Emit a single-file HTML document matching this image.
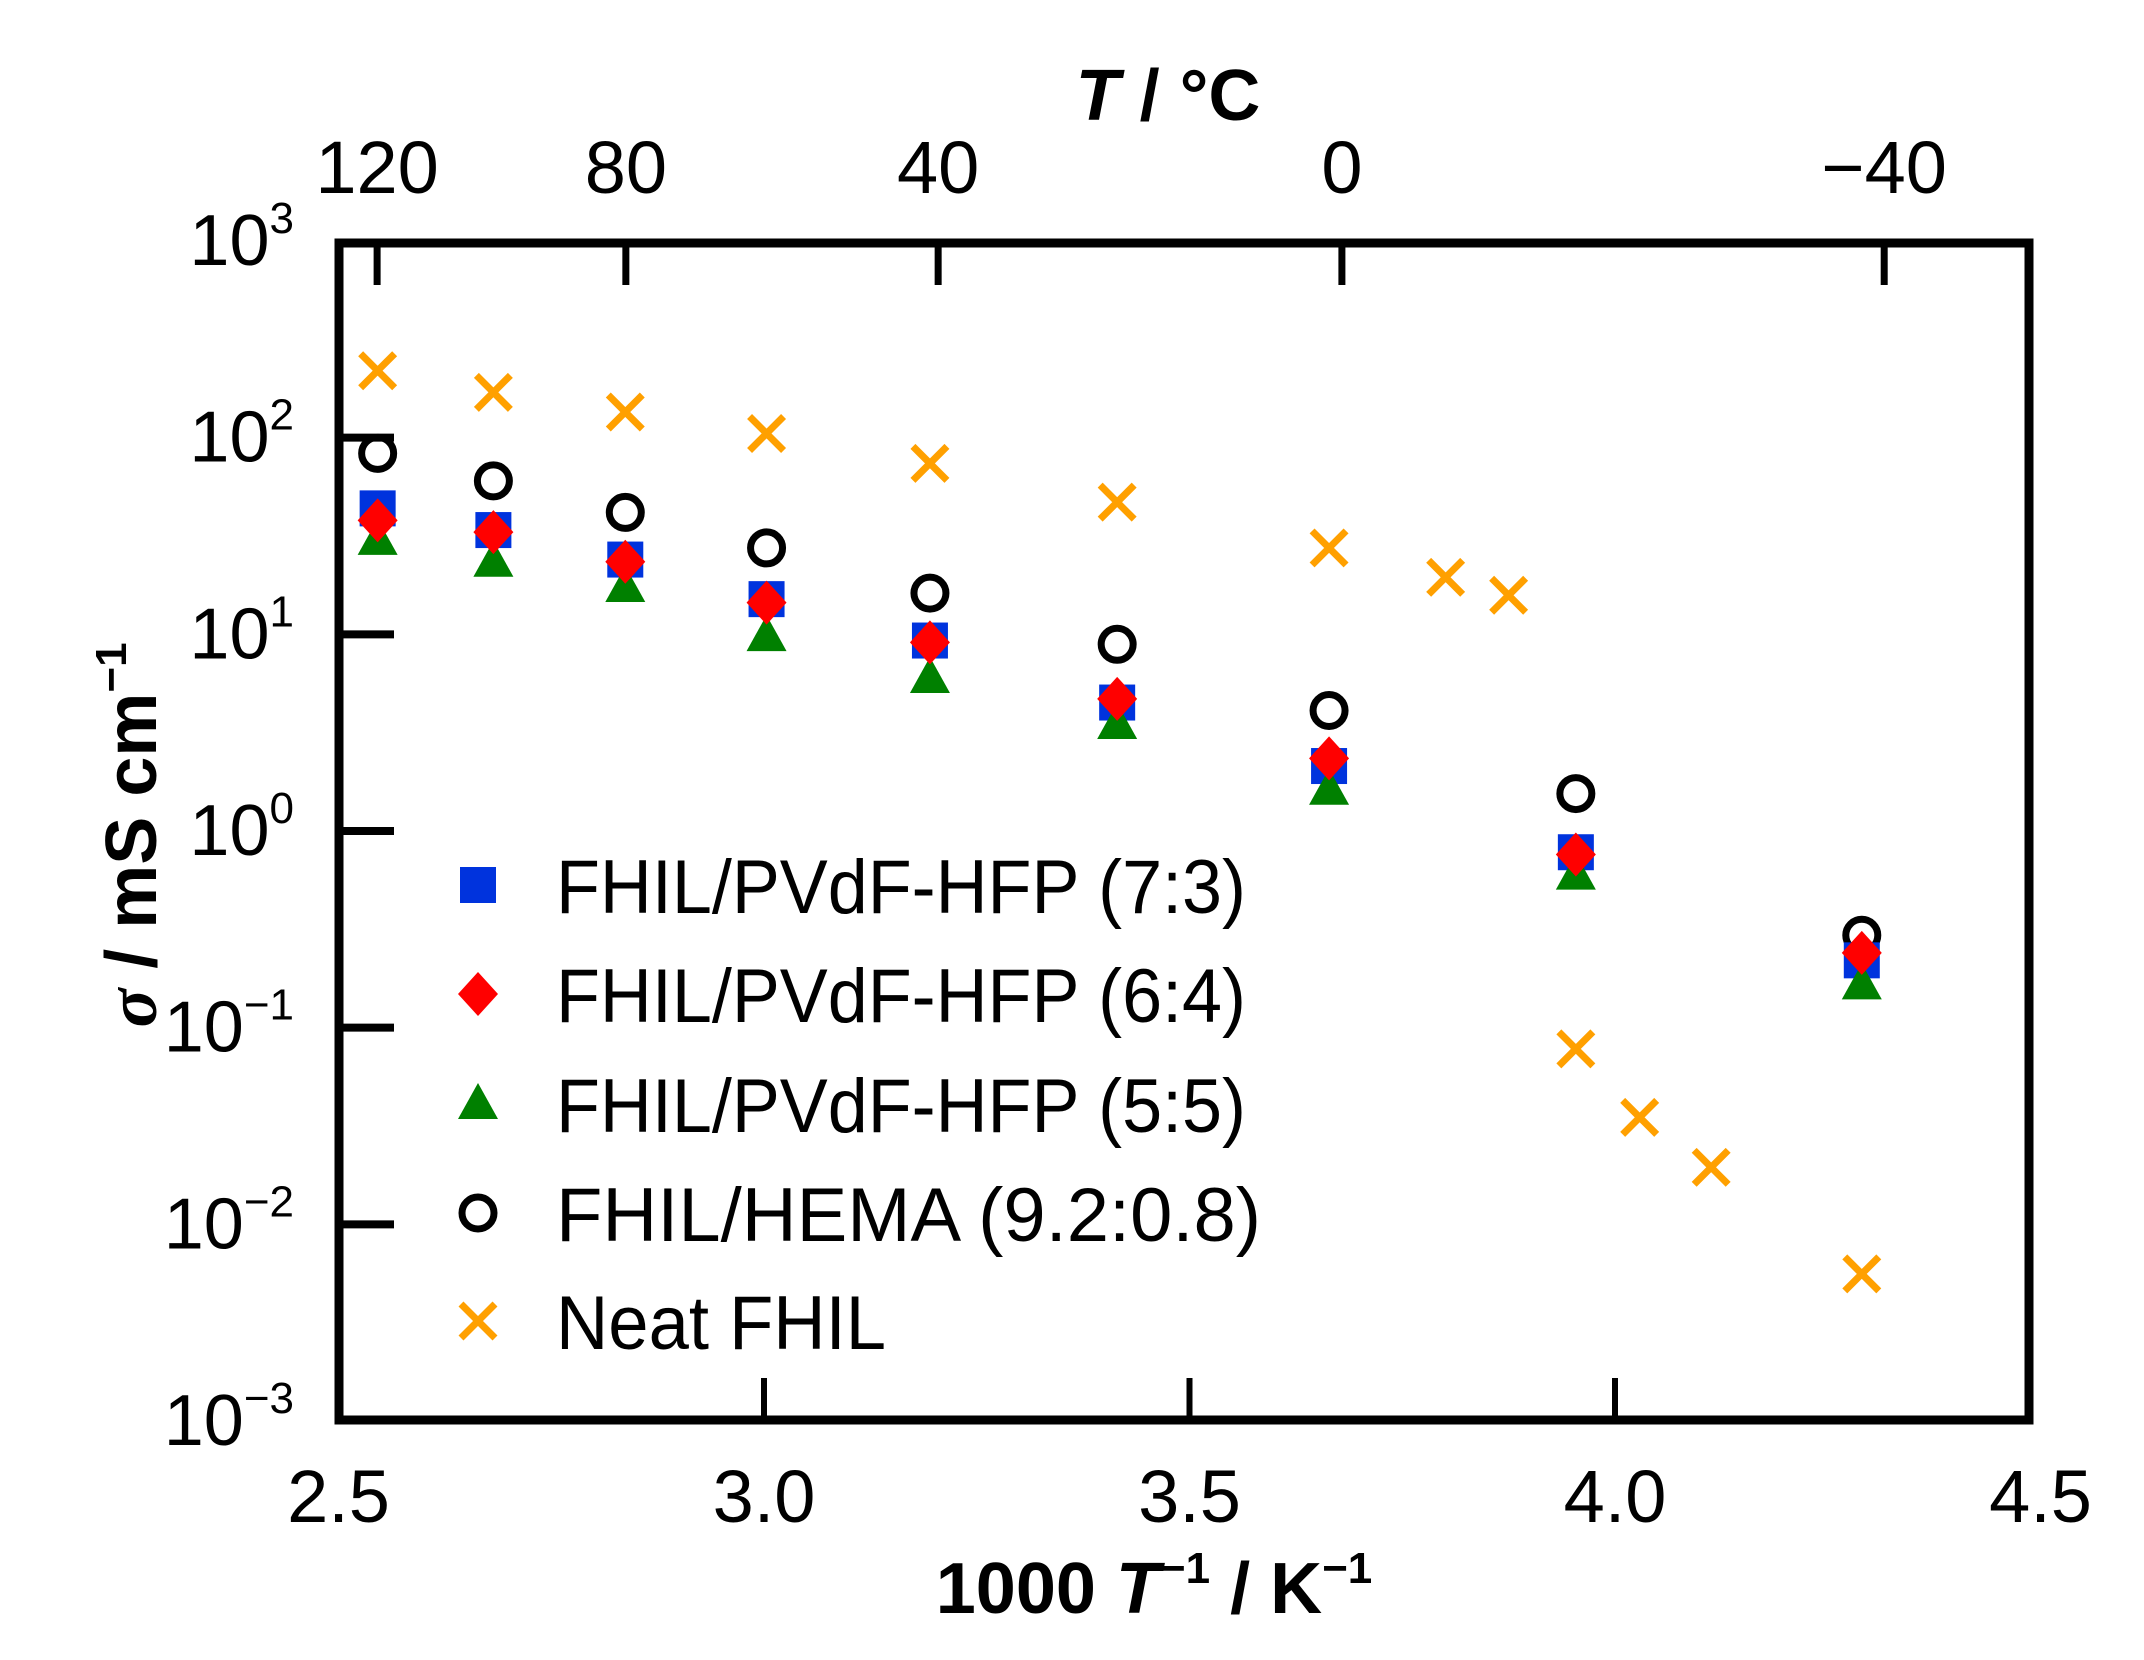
<!DOCTYPE html>
<html><head><meta charset="utf-8"><style>
html,body{margin:0;padding:0;background:#fff;}
svg{display:block;font-family:"Liberation Sans",sans-serif;}
</style></head><body>
<svg id="chart" width="2144" height="1660" viewBox="0 0 2144 1660">
<g id="marks"></g>
<g id="axes"></g>
<g id="legend"></g>
</svg>
<script>
const xCommon = [2.546, 2.682, 2.837, 3.003, 3.195, 3.415, 3.664, 3.954, 4.290];
const s73 = [43.7, 33.9, 24.0, 15.1, 9.3, 4.5, 2.14, 0.78, 0.22];
const s64 = [38.0, 33.1, 23.4, 14.5, 9.1, 4.7, 2.34, 0.76, 0.24];
const s55 = [30.2, 23.4, 17.4, 9.8, 6.0, 3.5, 1.62, 0.60, 0.166];
const sHEMA = [83.2, 60.3, 41.7, 27.5, 16.2, 8.9, 4.1, 1.55, 0.295];
const xNeat = [2.546, 2.682, 2.837, 3.003, 3.195, 3.415, 3.664, 3.801, 3.875, 3.954, 4.029, 4.113, 4.290];
const sNeat = [219, 170, 135, 105, 74, 47, 27.5, 19.5, 15.8, 0.078, 0.035, 0.0195, 0.0056];
const xTicks = [2.5, 3.0, 3.5, 4.0, 4.5];
const xTickLabels = ["2.5", "3.0", "3.5", "4.0", "4.5"];
const yExps = [3, 2, 1, 0, -1, -2, -3];
const yExpLabels = ["3", "2", "1", "0", "\u22121", "\u22122", "\u22123"];
const topTemps = [120, 80, 40, 0, -40];
const topTempLabels = ["120", "80", "40", "0", "\u221240"];

const NS = "http://www.w3.org/2000/svg";
const L = 339, R = 2029, T = 243, B = 1420;
function xs(v){ return 338.5 + (v - 2.5) * 851; }
function ys(s){ return 241 + (3 - Math.log10(s)) * 196.67; }
function xt(tc){ return -1819 + 863.4 * 1000 / (tc + 273.15); }
function mk(tag, attrs, parent){ const e = document.createElementNS(NS, tag); for (const k in attrs) e.setAttribute(k, attrs[k]); parent.appendChild(e); return e; }

const marks = document.getElementById('marks');
const axes = document.getElementById('axes');
const legend = document.getElementById('legend');

function drawMarker(type, cx, cy, parent){
  let e;
  if (type === 'square') e = mk('rect', {x: cx-18, y: cy-18, width: 36, height: 36, fill: '#0033dd'}, parent);
  else if (type === 'diamond') e = mk('polygon', {points: `${cx},${cy-22} ${cx+20},${cy} ${cx},${cy+22} ${cx-20},${cy}`, fill: '#ff0000'}, parent);
  else if (type === 'triangle') e = mk('polygon', {points: `${cx},${cy-21} ${cx+20},${cy+15} ${cx-20},${cy+15}`, fill: '#008000'}, parent);
  else if (type === 'circle') e = mk('circle', {cx: cx, cy: cy, r: 16, fill: 'none', stroke: '#000', 'stroke-width': 7}, parent);
  else {
    e = mk('path', {d: `M${cx-17},${cy-17}L${cx+17},${cy+17}M${cx+17},${cy-17}L${cx-17},${cy+17}`, stroke: '#ffa000', 'stroke-width': 7, fill: 'none'}, parent);
  }
  return e;
}

const series = [
  {name: 'hema', type: 'circle', x: xCommon, y: sHEMA},
  {name: '7-3', type: 'square', x: xCommon, y: s73},
  {name: '5-5', type: 'triangle', x: xCommon, y: s55},
  {name: '6-4', type: 'diamond', x: xCommon, y: s64},
  {name: 'neat', type: 'cross', x: xNeat, y: sNeat}
];
series.forEach(sr => {
  const g = mk('g', {}, marks);
  
  
  sr.y.forEach((v, i) => {
    const e = drawMarker(sr.type, xs(sr.x[i]), ys(v), g);
    
    
  });
});

const fr = mk('rect', {x: L, y: T, width: R-L, height: B-T, fill: 'none', stroke: '#000', 'stroke-width': 9}, axes);



xTicks.forEach((v, i) => {
  const x = xs(v);
  if (i > 0 && i < xTicks.length-1) {
    const t = mk('line', {x1: x, y1: B, x2: x, y2: B-42, stroke: '#000', 'stroke-width': 6}, axes);
    
    
  }
  const lb = mk('text', {x: x, y: 1522, 'font-size': 74, 'text-anchor': 'middle'}, axes);
  lb.textContent = xTickLabels[i];
  
  
});

yExps.forEach((p, i) => {
  const y = ys(Math.pow(10, p));
  if (i > 0 && i < yExps.length-1) {
    const t = mk('line', {x1: L, y1: y, x2: L+55, y2: y, stroke: '#000', 'stroke-width': 8}, axes);
    
    
  }
  const lb = mk('text', {x: 294, y: y + 24, 'font-size': 72, 'text-anchor': 'end'}, axes);
  
  
  const b = mk('tspan', {}, lb); b.textContent = '10';
  const s = mk('tspan', {'font-size': 44, dy: -32}, lb); s.textContent = yExpLabels[i];
});

topTemps.forEach((tc, i) => {
  const x = xt(tc);
  const t = mk('line', {x1: x, y1: T, x2: x, y2: T+42, stroke: '#000', 'stroke-width': 7}, axes);
  
  
  const lb = mk('text', {x: x, y: 193, 'font-size': 74, 'text-anchor': 'middle'}, axes);
  lb.textContent = topTempLabels[i];
  
  
});

const tt = mk('text', {x: 1168, y: 120, 'font-size': 72, 'font-weight': 'bold', 'text-anchor': 'middle'}, axes);


tt.innerHTML = '<tspan font-style="italic">T</tspan> / °C';
const bt = mk('text', {x: 1154, y: 1613, 'font-size': 72, 'font-weight': 'bold', 'text-anchor': 'middle'}, axes);


bt.innerHTML = '1000 <tspan font-style="italic">T</tspan><tspan font-size="44" dy="-30">\u22121</tspan><tspan dy="30"> / K</tspan><tspan font-size="44" dy="-30">\u22121</tspan>';
const yt = mk('text', {x: 0, y: 0, 'font-size': 72, 'font-weight': 'bold', 'text-anchor': 'middle', transform: 'translate(156,835) rotate(-90)'}, axes);


yt.innerHTML = '<tspan font-style="italic" font-family="Liberation Serif, serif">σ</tspan> / mS cm<tspan font-size="44" dy="-30">\u22121</tspan>';

const legNames = ["FHIL/PVdF-HFP (7:3)", "FHIL/PVdF-HFP (6:4)", "FHIL/PVdF-HFP (5:5)", "FHIL/HEMA (9.2:0.8)", "Neat FHIL"];
const legTypes = ['square', 'diamond', 'triangle', 'circle', 'cross'];
const legWidths = [690, 690, 690, 705, 330];
const legBase = [913, 1022, 1132, 1241, 1349];
legNames.forEach((n, i) => {
  const g = mk('g', {}, legend);
  
  
  const cy = legBase[i] - 28;
  const m = drawMarker(legTypes[i], 478, cy, g);
  
  
  const t = mk('text', {x: 556, y: legBase[i], 'font-size': 76, textLength: legWidths[i], lengthAdjust: 'spacingAndGlyphs'}, g);
  t.textContent = n;
  
  
});
</script>
</body></html>
